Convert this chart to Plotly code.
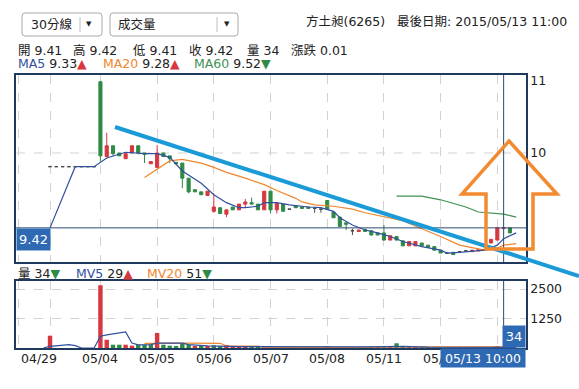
import plotly.graph_objects as go

# ---------------- data ----------------
bar_index = list(range(-5, 74))          # 30-minute bars, 0 = first bar of 04/30

open_ = [
    8.67, 8.67, 8.67, 8.67, 8.67, 9.81, 9.81, 9.81, 9.81, 9.81,
    9.81, 9.81, 9.81, 10.99, 9.95, 10.10, 10.00, 9.92, 10.00, 10.10,
    10.00, 9.85, 9.80, 10.00, 9.96, 9.87, 9.86, 9.65, 9.49, 9.46,
    9.41, 9.19, 9.24, 9.15, 9.25, 9.21, 9.29, 9.31, 9.29, 9.21,
    9.47, 9.21, 9.29, 9.22, 9.27, 9.25, 9.25, 9.23, 9.22, 9.34,
    9.18, 9.11, 9.03, 8.92, 8.91, 8.94, 8.92, 8.89, 8.89, 8.79,
    8.84, 8.78, 8.71, 8.71, 8.75, 8.72, 8.70, 8.65, 8.61, 8.62,
    8.63, 8.64, 8.63, 8.64, 8.66, 8.75, 8.79, 8.95, 8.96,
]
high = [
    8.67, 8.67, 8.67, 8.67, 8.67, 9.81, 9.81, 9.81, 9.81, 9.81,
    9.81, 9.81, 9.81, 10.99, 10.28, 10.10, 10.00, 9.99, 10.10, 10.10,
    10.00, 9.88, 10.11, 10.00, 9.96, 9.87, 9.86, 9.65, 9.49, 9.46,
    9.47, 9.44, 9.24, 9.21, 9.25, 9.29, 9.36, 9.38, 9.29, 9.47,
    9.47, 9.30, 9.29, 9.22, 9.27, 9.25, 9.25, 9.25, 9.23, 9.34,
    9.18, 9.11, 9.03, 8.95, 8.93, 8.94, 8.92, 8.89, 9.00, 8.85,
    8.84, 8.78, 8.77, 8.77, 8.75, 8.72, 8.70, 8.65, 8.61, 8.62,
    8.63, 8.64, 8.65, 8.66, 8.66, 8.80, 8.96, 8.96, 8.96,
]
low = [
    8.67, 8.67, 8.67, 8.67, 8.67, 9.81, 9.81, 9.81, 9.81, 9.81,
    9.81, 9.81, 9.81, 9.88, 9.94, 9.96, 9.96, 9.92, 10.00, 9.98,
    9.86, 9.85, 9.80, 9.95, 9.86, 9.85, 9.51, 9.44, 9.46, 9.42,
    9.41, 9.17, 9.16, 9.11, 9.21, 9.21, 9.25, 9.29, 9.21, 9.21,
    9.16, 9.16, 9.19, 9.22, 9.24, 9.23, 9.23, 9.17, 9.17, 9.22,
    9.10, 8.98, 8.93, 8.86, 8.91, 8.91, 8.86, 8.86, 8.79, 8.79,
    8.79, 8.71, 8.71, 8.71, 8.71, 8.69, 8.65, 8.61, 8.61, 8.59,
    8.63, 8.64, 8.63, 8.64, 8.66, 8.75, 8.79, 8.95, 8.89,
]
close = [
    8.67, 8.67, 8.67, 8.67, 8.67, 9.81, 9.81, 9.81, 9.81, 9.81,
    9.81, 9.81, 9.81, 9.96, 10.10, 9.99, 9.96, 9.99, 10.10, 10.00,
    9.98, 9.88, 10.00, 9.95, 9.92, 9.85, 9.65, 9.46, 9.46, 9.42,
    9.47, 9.25, 9.16, 9.21, 9.21, 9.29, 9.32, 9.29, 9.21, 9.47,
    9.21, 9.30, 9.19, 9.22, 9.24, 9.23, 9.23, 9.23, 9.22, 9.22,
    9.10, 8.98, 9.01, 8.92, 8.93, 8.91, 8.86, 8.86, 8.79, 8.85,
    8.79, 8.71, 8.77, 8.77, 8.71, 8.69, 8.65, 8.61, 8.61, 8.59,
    8.63, 8.64, 8.65, 8.66, 8.66, 8.80, 8.96, 8.96, 8.89,
]
volume = [
    0, 0, 0, 0, 0, 520, 0, 0, 0, 0,
    0, 0, 0, 2660, 350, 140, 140, 140, 100, 140,
    140, 140, 640, 140, 100, 50, 180, 140, 70, 70,
    70, 110, 70, 130, 50, 50, 40, 40, 50, 60,
    60, 40, 30, 20, 30, 30, 20, 20, 20, 70,
    40, 40, 30, 20, 30, 20, 30, 20, 80, 80,
    200, 40, 30, 30, 20, 30, 30, 30, 10, 20,
    10, 10, 20, 20, 10, 30, 60, 34, 20,
]

ma5_index = [0, 4, 7, 9, 12, 15, 17, 19, 21, 24, 26, 28, 30, 31, 33, 34, 36, 38,
             41, 43, 45, 46, 48, 50, 52, 54, 56, 59, 62, 63, 65, 67, 69, 71, 72, 74]
ma5_value = [8.96, 9.81, 9.81, 9.93, 10.01, 9.99, 9.99, 9.94, 9.75, 9.58, 9.42, 9.31,
             9.24, 9.24, 9.26, 9.31, 9.31, 9.28, 9.25, 9.24, 9.19, 9.10, 9.00, 8.93,
             8.89, 8.84, 8.77, 8.70, 8.65, 8.61, 8.62, 8.64, 8.65, 8.72, 8.81, 8.89]
ma20_index = [15, 17, 19, 21, 22, 24, 26, 28, 31, 34, 36, 39, 40, 42, 45, 48, 50, 53,
              56, 57, 59, 62, 65, 67, 69, 71, 72, 74]
ma20_value = [9.66, 9.78, 9.89, 9.91, 9.89, 9.86, 9.80, 9.73, 9.65, 9.56, 9.48, 9.37,
              9.32, 9.28, 9.26, 9.22, 9.17, 9.12, 9.06, 9.02, 8.95, 8.84, 8.72, 8.68,
              8.65, 8.68, 8.72, 8.74]
ma60_index = [55, 59, 62, 66, 68, 72, 74]
ma60_value = [9.40, 9.40, 9.35, 9.25, 9.18, 9.15, 9.11]

mv5_index = [-1, 0, 3, 4, 5, 7, 8, 9, 12, 13, 14, 16, 17, 21, 22, 25, 30, 40, 50, 56, 60, 72, 74]
mv5_value = [10, 72, 140, 100, 0, 0, 500, 560, 680, 210, 130, 140, 210, 210, 140, 90,
             60, 40, 50, 70, 40, 29, 25]
mv20_index = [15, 17, 22, 27, 28, 33, 34, 45, 55, 74]
mv20_value = [200, 210, 210, 200, 85, 85, 30, 30, 50, 51]

day_start_index = [-5, 0, 8, 17, 26, 35, 44, 53, 62, 71]
day_labels = ["04/29", "04/30", "05/04", "05/05", "05/06", "05/07", "05/08", "05/11", "05/12", "05/13"]
day_label_shown = [True, False, True, True, True, True, True, True, True, False]

price_ticks = [10, 11]
price_tick_text = ["10", "11"]
volume_ticks = [1250, 2500]
volume_tick_text = ["1250", "2500"]

stock_title = "方土昶(6265)"
last_date_text = "最後日期: 2015/05/13 11:00"
period_menu = "30分線"
indicator_menu = "成交量"
quote_labels = ["開", "高", "低", "收", "量", "漲跌"]
quote_values = ["9.41", "9.42", "9.41", "9.42", "34", "0.01"]
ma_labels = ["MA5", "MA20", "MA60"]
ma_header_values = ["9.33", "9.28", "9.52"]
ma_header_dirs = ["▲", "▲", "▼"]
vol_labels = ["量", "MV5", "MV20"]
vol_header_values = ["34", "29", "51"]
vol_header_dirs = ["▼", "▲", "▼"]
cursor_bar = 72
cursor_time = "05/13 10:00"
cursor_price_text = "9.42"
cursor_volume_text = "34"

# ---------------- styles / layout ----------------
FONT = "DejaVu Sans, Noto Sans CJK TC, sans-serif"
TEXT = "#222222"
RED = "#d7373f"
GREEN = "#2f8a46"
DOJI = "#4a4a4a"
C_MA5 = "#30509e"
C_MA20 = "#f0852d"
C_MA60 = "#3e9152"
BORDER = "#1f3a5c"
GRID = "#d2d2d2"
LABEL_BG = "#2e6ab3"
TREND = "#1a9bd8"
ARROW = "#f28b30"
CURSOR = "#2c4b74"

W, H = 579, 389
ML, MR, MT, MB = 16, 53, 75, 41
PW, PH = W - ML - MR, H - MT - MB


def fx(px):
    return (px - ML) / PW


def fy(py):
    return (H - MB - py) / PH


x_range = [-5.4, 75.55]
y_range = [8.486, 11.083]
v_range = [0, 2840]
main_domain = [fy(262), 1]
vol_domain = [0, fy(281)]

dir_color = {"▲": RED, "▼": GREEN}
vol_colors = [RED if k == 0 or close[k] >= close[k - 1] else GREEN for k in range(len(close))]
is_doji = [o == c for o, c in zip(open_, close)]


def pick(seq, want):
    return [v if d == want else None for v, d in zip(seq, is_doji)]


fig = go.Figure()
fig.add_trace(go.Candlestick(
    x=bar_index, open=pick(open_, False), high=pick(high, False), low=pick(low, False),
    close=pick(close, False),
    increasing=dict(line=dict(color=RED, width=1), fillcolor=RED),
    decreasing=dict(line=dict(color=GREEN, width=1), fillcolor=GREEN),
    whiskerwidth=0, xaxis="x", yaxis="y", hoverinfo="skip", showlegend=False))
fig.add_trace(go.Candlestick(
    x=bar_index, open=pick(open_, True), high=pick(high, True), low=pick(low, True),
    close=pick(close, True),
    increasing=dict(line=dict(color=DOJI, width=1), fillcolor=DOJI),
    decreasing=dict(line=dict(color=DOJI, width=1), fillcolor=DOJI),
    whiskerwidth=0, xaxis="x", yaxis="y", hoverinfo="skip", showlegend=False))
for xs, ys, col in [(ma60_index, ma60_value, C_MA60), (ma20_index, ma20_value, C_MA20),
                    (ma5_index, ma5_value, C_MA5)]:
    fig.add_trace(go.Scatter(x=xs, y=ys, mode="lines", line=dict(color=col, width=1.2),
                             xaxis="x", yaxis="y", hoverinfo="skip", showlegend=False))
fig.add_trace(go.Bar(x=bar_index, y=volume, marker=dict(color=vol_colors, line=dict(width=0)),
                     width=0.7, xaxis="x2", yaxis="y2", hoverinfo="skip", showlegend=False))
for xs, ys, col in [(mv20_index, mv20_value, C_MA20), (mv5_index, mv5_value, C_MA5)]:
    fig.add_trace(go.Scatter(x=xs, y=ys, mode="lines", line=dict(color=col, width=1.2),
                             xaxis="x2", yaxis="y2", hoverinfo="skip", showlegend=False))

axis_common = dict(showline=True, mirror=True, linecolor=BORDER, linewidth=1.5,
                   zeroline=False, ticks="", tickfont=dict(size=12.5, color=TEXT))
fig.update_layout(
    width=W, height=H, margin=dict(l=ML, r=MR, t=MT, b=MB),
    paper_bgcolor="white", plot_bgcolor="white", showlegend=False,
    font=dict(family=FONT, size=12.5, color=TEXT),
    xaxis=dict(domain=[0, 1], anchor="y", range=x_range, tickmode="array", tickvals=day_start_index,
               showticklabels=False, showgrid=True, gridcolor=GRID, griddash="dash",
               rangeslider=dict(visible=False), **axis_common),
    yaxis=dict(domain=main_domain, anchor="x", range=y_range, side="right", tickmode="array",
               tickvals=price_ticks, ticktext=price_tick_text, showgrid=False, **axis_common),
    xaxis2=dict(domain=[0, 1], anchor="y2", range=x_range, matches="x", tickmode="array",
                tickvals=day_start_index, showticklabels=False, showgrid=True, gridcolor=GRID,
                griddash="dash", **axis_common),
    yaxis2=dict(domain=vol_domain, anchor="x2", range=v_range, side="right", tickmode="array",
                tickvals=volume_ticks, ticktext=volume_tick_text, showgrid=True, gridcolor=GRID,
                griddash="dash", **axis_common),
)

shapes = []
# horizontal price grid line
for v in price_ticks[:1]:
    shapes.append(dict(type="line", xref="x", yref="y", x0=x_range[0], x1=x_range[1], y0=v, y1=v,
                       line=dict(color=GRID, width=1, dash="dash"), layer="below"))
# cursor cross-hair
cur_close = close[bar_index.index(cursor_bar)]
shapes.append(dict(type="line", xref="x", yref="y", x0=x_range[0], x1=x_range[1], y0=cur_close,
                   y1=cur_close, line=dict(color=CURSOR, width=1)))
shapes.append(dict(type="line", xref="x", yref="y", x0=cursor_bar, x1=cursor_bar, y0=y_range[0],
                   y1=y_range[1], line=dict(color=CURSOR, width=1)))
shapes.append(dict(type="line", xref="x2", yref="y2", x0=cursor_bar, x1=cursor_bar, y0=v_range[0],
                   y1=v_range[1], line=dict(color=CURSOR, width=1)))


def rrect(x0, y0, x1, y1, r=3):
    a, b, c, d = fx(x0), fy(y0), fx(x1), fy(y1)
    rx, ry = r / PW, r / PH
    return (f"M {a+rx},{b} L {c-rx},{b} Q {c},{b} {c},{b-ry} L {c},{d+ry} Q {c},{d} {c-rx},{d} "
            f"L {a+rx},{d} Q {a},{d} {a},{d+ry} L {a},{b-ry} Q {a},{b} {a+rx},{b} Z")


# header drop-down boxes
for (x0, x1, xdiv) in [(22, 102, 80), (110, 238, 217)]:
    shapes.append(dict(type="path", xref="paper", yref="paper", path=rrect(x0, 13, x1, 36),
                       line=dict(color="#a9a9a9", width=1), fillcolor="white"))
    shapes.append(dict(type="line", xref="paper", yref="paper", x0=fx(xdiv), x1=fx(xdiv),
                       y0=fy(17), y1=fy(32), line=dict(color="#bdbdbd", width=1)))

# hand-drawn overlays: trend line and up-arrow (page pixels)
trend_px = [(115, 127), (579, 276)]
shapes.append(dict(type="line", xref="paper", yref="paper",
                   x0=fx(trend_px[0][0]), y0=fy(trend_px[0][1]),
                   x1=fx(trend_px[1][0]), y1=fy(trend_px[1][1]),
                   line=dict(color=TREND, width=4)))
arrow_px = [(509, 141), (557, 194), (533, 194), (533, 249), (486, 249), (486, 194), (462, 194)]
path = "M " + " L ".join(f"{fx(px)},{fy(py)}" for px, py in arrow_px) + " Z"
shapes.append(dict(type="path", xref="paper", yref="paper", path=path,
                   line=dict(color=ARROW, width=3.5)))
fig.update_layout(shapes=shapes)

ann = []


def text(px, py, s, size=12.5, color=TEXT, anchor="left", h=None):
    a = dict(xref="paper", yref="paper", x=fx(px), y=fy(py), text=s, showarrow=False,
             xanchor=anchor, yanchor="middle", borderpad=0,
             font=dict(size=size, color=color, family=FONT))
    if h:
        a["height"] = h
    ann.append(a)


def span(s, c):
    return f'<span style="color:{c}">{s}</span>'


text(30, 24, period_menu)
text(89, 24, "▼", size=7, anchor="center")
text(117, 24, indicator_menu)
text(227, 24, "▼", size=7, anchor="center")
text(305, 21, stock_title)
text(396, 21, last_date_text)
for px, lab, val in zip([17, 72, 132, 188, 246, 290], quote_labels, quote_values):
    text(px, 50, f"{lab} {val}", h=13)
for px, lab, val, d, c in zip([17, 102, 193], ma_labels, ma_header_values, ma_header_dirs,
                              [C_MA5, C_MA20, C_MA60]):
    text(px, 63.5, span(lab, c) + " " + val + span(d, dir_color[d]), h=13)
for px, lab, val, d, c in zip([17, 75, 146], vol_labels, vol_header_values, vol_header_dirs,
                              [TEXT, C_MA5, C_MA20]):
    text(px, 273, span(lab, c) + " " + val + span(d, dir_color[d]))

# date labels under the volume panel
for k, (i, lab, show) in enumerate(zip(day_start_index, day_labels, day_label_shown)):
    if show:
        ann.append(dict(xref="x2", yref="paper", x=i, y=fy(358), text=lab, showarrow=False,
                        xanchor="left" if k == 0 else "center", yanchor="middle",
                        font=dict(size=12.5, color=TEXT)))

# cursor value boxes
ann.append(dict(xref="paper", yref="y", x=0, y=cur_close, text=cursor_price_text, showarrow=False,
                xanchor="left", yanchor="top", width=33, height=21, borderpad=0, bgcolor=LABEL_BG,
                font=dict(size=13, color="white")))
ann.append(dict(xref="paper", yref="y2", x=1, y=0, text=cursor_volume_text, showarrow=False,
                xanchor="right", yanchor="bottom", width=22, height=21, borderpad=0,
                bgcolor=LABEL_BG, font=dict(size=13, color="white")))
ann.append(dict(xref="paper", yref="paper", x=1, y=0, text=cursor_time, showarrow=False,
                xanchor="right", yanchor="top", width=84, height=18, borderpad=0,
                bgcolor=LABEL_BG, font=dict(size=12.5, color="white")))
fig.update_layout(annotations=ann)

fig.write_html("out.html", config={"displayModeBar": False},
               post_script="document.body.style.margin='0px';")
